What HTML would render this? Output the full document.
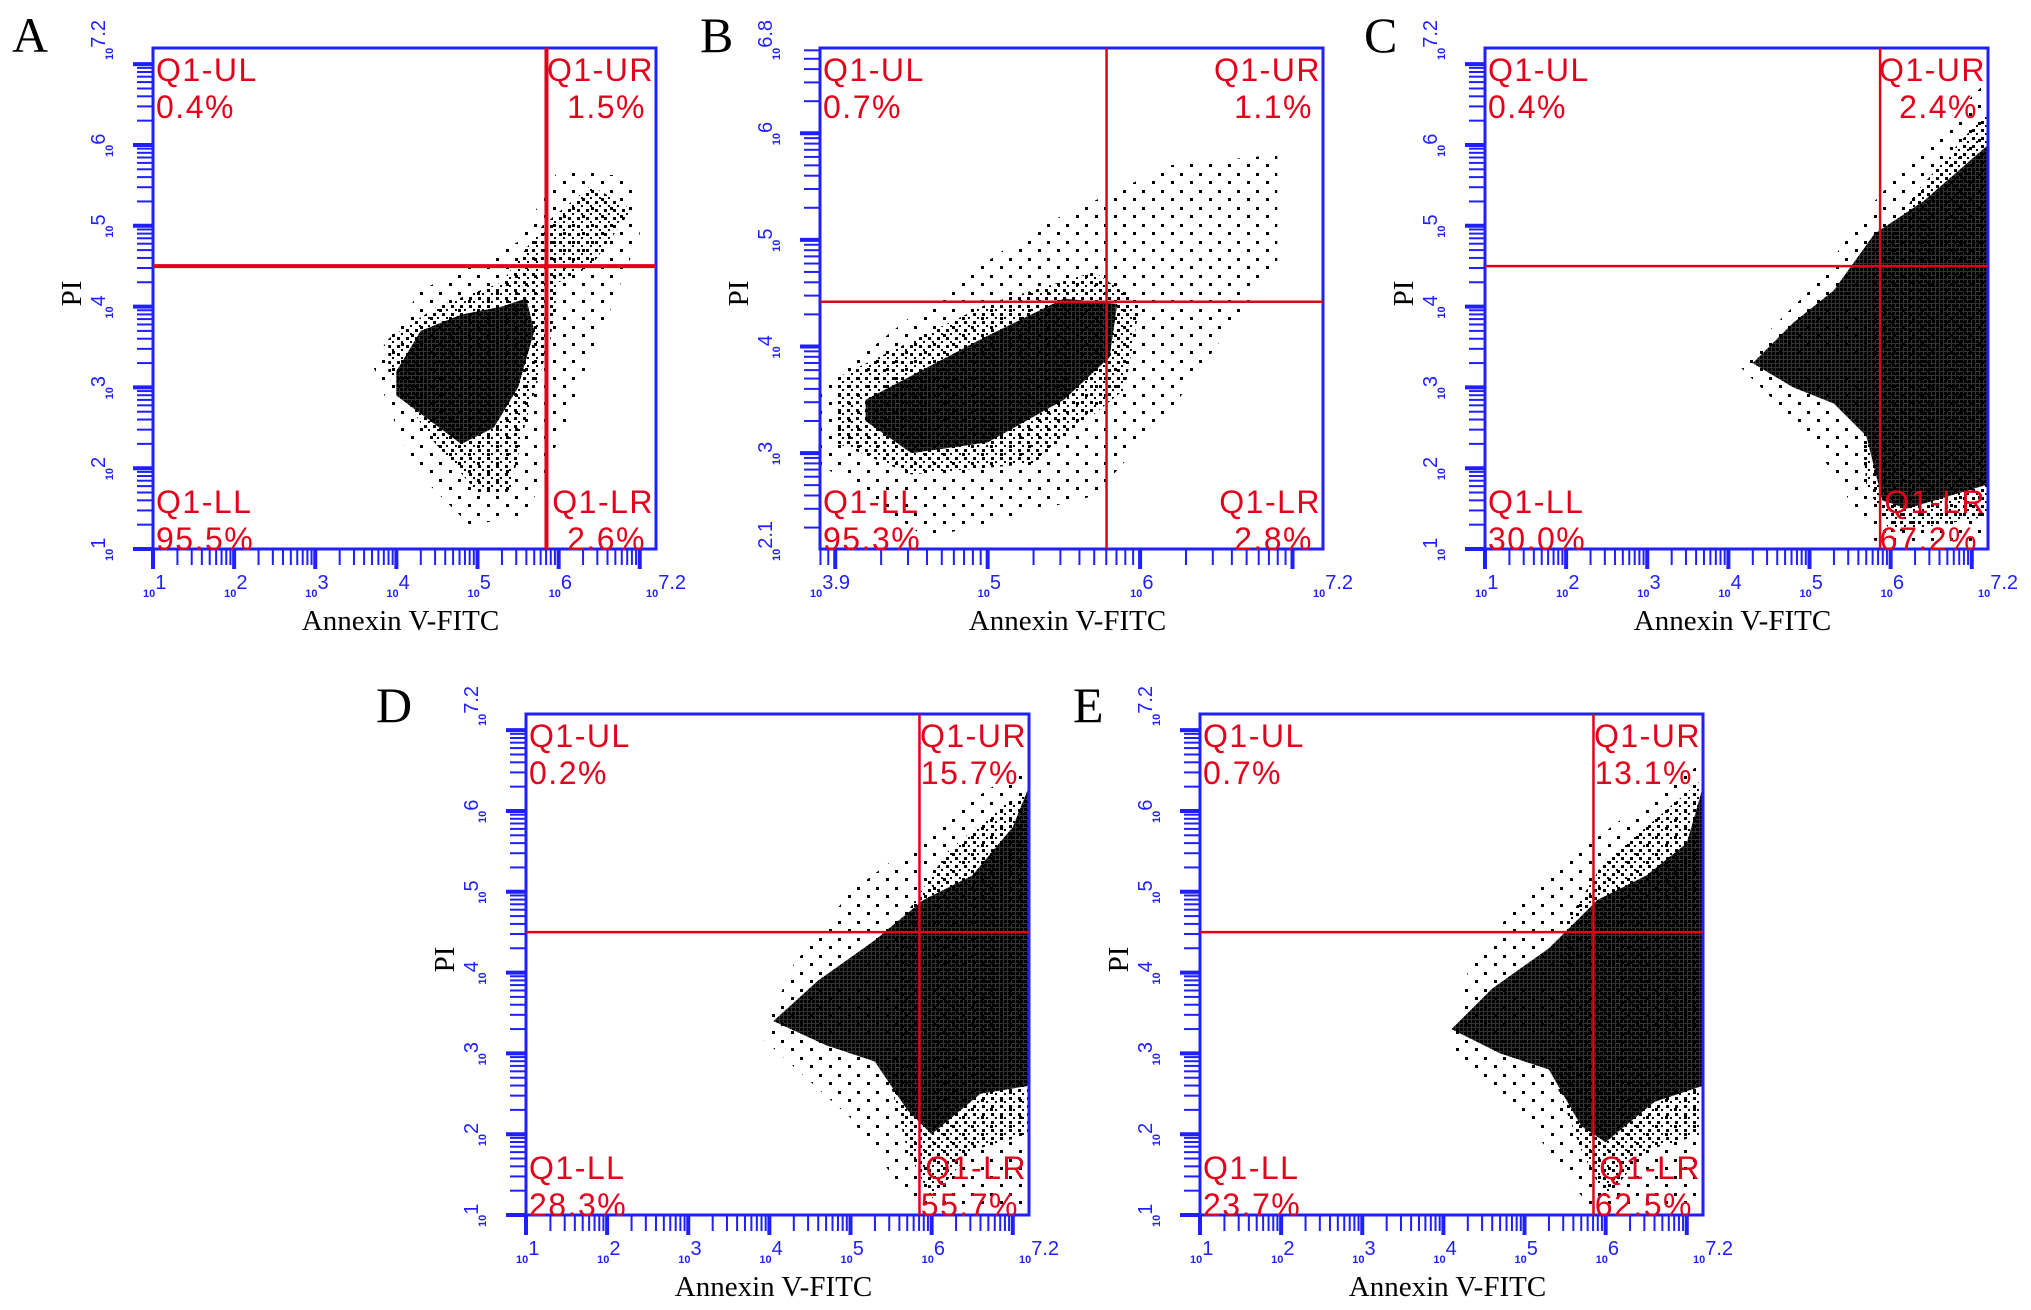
<!DOCTYPE html>
<html><head><meta charset="utf-8"><style>
html,body{margin:0;padding:0;background:#fff;}
svg{display:block;}
</style></head><body>
<svg id="fig" width="2031" height="1310" viewBox="0 0 2031 1310" xmlns="http://www.w3.org/2000/svg">
<defs>
<pattern id="dotsM" width="4" height="4" patternUnits="userSpaceOnUse"><rect x="0" y="0" width="3" height="3" fill="#000"/></pattern>
<pattern id="dotsS" width="9" height="8" patternUnits="userSpaceOnUse"><rect x="1" y="1" width="3" height="3" fill="#000"/><rect x="5" y="5" width="2" height="2" fill="#000"/></pattern>
<pattern id="dotsX" width="19" height="17" patternUnits="userSpaceOnUse"><rect x="2" y="3" width="3" height="3" fill="#000"/><rect x="12" y="11" width="3" height="3" fill="#000"/></pattern>
</defs>
</svg>
<script>
// panel ids and layout
const panelIds = ['A','B','C','D','E'];
const panelLeft = [153, 820, 1485, 526, 1200];
const panelTop = [48, 48, 48, 714, 714];
const panelW = 503, panelH = 501;
// axis ranges (log10 decades)
const xMin = [1, 3.9, 1, 1, 1];
const xMax = [7.2, 7.2, 7.2, 7.2, 7.2];
const yMin = [1, 2.1, 1, 1, 1];
const yMax = [7.2, 6.8, 7.2, 7.2, 7.2];
const xTickLabels = [['1','2','3','4','5','6','7.2'],['3.9','5','6','7.2'],['1','2','3','4','5','6','7.2'],['1','2','3','4','5','6','7.2'],['1','2','3','4','5','6','7.2']];
const yTickLabels = [['1','2','3','4','5','6','7.2'],['2.1','3','4','5','6','6.8'],['1','2','3','4','5','6','7.2'],['1','2','3','4','5','6','7.2'],['1','2','3','4','5','6','7.2']];
// quadrant gates (decades)
const gateX = [5.85, 5.78, 5.87, 5.85, 5.85];
const gateY = [4.5, 4.42, 4.5, 4.5, 4.5];
// quadrant percentages
const pctUL = ['0.4%','0.7%','0.4%','0.2%','0.7%'];
const pctUR = ['1.5%','1.1%','2.4%','15.7%','13.1%'];
const pctLL = ['95.5%','95.3%','30.0%','28.3%','23.7%'];
const pctLR = ['2.6%','2.8%','67.2%','55.7%','62.5%'];
// cloud polygons (decades) per panel: dense, medium, sparse
const denseClouds = [
 [[4.0,3.2],[4.3,3.7],[4.8,3.9],[5.3,4.0],[5.6,4.1],[5.7,3.7],[5.5,3.0],[5.2,2.5],[4.8,2.3],[4.4,2.6],[4.0,2.9]],
 [[4.2,3.3],[4.5,3.0],[5.0,3.1],[5.5,3.5],[5.8,3.9],[5.85,4.4],[5.5,4.45],[5.0,4.1],[4.6,3.8],[4.2,3.5]],
 [[4.3,3.3],[4.8,3.8],[5.3,4.2],[5.8,4.9],[6.4,5.3],[7.2,6.0],[7.2,1.8],[6.2,1.5],[5.9,1.6],[5.7,2.4],[5.3,2.8],[4.8,3.0]],
 [[4.05,3.4],[4.6,3.9],[5.3,4.4],[5.9,4.9],[6.5,5.2],[7.0,5.8],[7.2,6.3],[7.2,2.6],[6.6,2.5],[6.0,2.0],[5.7,2.3],[5.3,2.9],[4.7,3.1]],
 [[4.1,3.3],[4.6,3.8],[5.3,4.3],[5.9,4.9],[6.5,5.2],[7.0,5.6],[7.2,6.3],[7.2,2.6],[6.6,2.4],[6.0,1.9],[5.7,2.1],[5.3,2.8],[4.7,3.0]]
];
const mediumClouds = [
 [[3.9,3.2],[4.4,2.4],[5.0,1.7],[5.4,1.7],[5.6,2.6],[5.9,3.6],[6.0,4.3],[6.4,4.5],[6.9,5.2],[6.4,5.5],[5.8,5.0],[5.3,4.3],[4.5,4.0],[3.9,3.6]],
 [[4.0,3.1],[4.5,2.8],[5.3,2.9],[5.9,3.6],[6.0,4.4],[5.7,4.7],[5.0,4.4],[4.0,3.7]],
 [[5.8,4.5],[6.3,5.4],[7.0,6.2],[7.2,6.4],[7.2,1.4],[6.6,1.3],[6.0,1.2],[5.7,1.8],[5.6,3.0]],
 [[5.6,4.6],[6.2,5.5],[6.9,6.1],[7.2,6.2],[7.2,2.0],[6.5,1.8],[6.0,1.2],[5.7,1.8],[5.5,2.6]],
 [[5.5,4.6],[6.0,5.4],[6.5,5.8],[7.2,6.4],[7.2,2.0],[6.5,1.8],[6.0,1.2],[5.7,1.8],[5.4,2.6]]
];
const sparseClouds = [
 [[3.7,3.3],[4.2,2.0],[4.9,1.3],[5.6,1.4],[6.1,2.6],[6.5,3.6],[7.0,4.9],[6.9,5.6],[6.0,5.7],[5.5,4.8],[4.3,4.2]],
 [[3.9,2.9],[4.6,2.2],[5.7,2.6],[6.2,3.4],[6.9,4.8],[6.9,5.8],[6.2,5.7],[5.3,5.1],[4.6,4.4],[3.9,3.6]],
 [[4.1,3.3],[5.0,2.4],[5.8,1.1],[7.2,1.1],[7.2,6.8],[6.6,6.2],[5.8,5.3],[5.0,4.2]],
 [[3.9,3.2],[5.0,2.2],[5.8,1.1],[7.2,1.1],[7.2,6.6],[6.6,6.2],[5.8,5.6],[5.0,5.0],[4.3,4.1]],
 [[4.1,3.0],[5.0,2.2],[5.8,1.1],[7.2,1.1],[7.2,6.6],[6.6,6.2],[5.8,5.6],[5.0,5.0],[4.3,4.0]]
];
// letter positions
const letterX = [12, 700, 1364, 376, 1073];
const letterY = [52, 52, 52, 722, 722];

const NS = 'http://www.w3.org/2000/svg';
const svg = document.getElementById('fig');
function mk(tag, attrs, parent){
  const e = document.createElementNS(NS, tag);
  for (const k in attrs) e.setAttribute(k, attrs[k]);
  (parent||svg).appendChild(e);
  return e;
}
const BLUE = '#1f1fff', RED = '#e3001b';

panelIds.forEach((id, i) => {
  const L = panelLeft[i], T = panelTop[i], R = L + panelW, B = T + panelH;
  const px = v => L + (v - xMin[i]) / (xMax[i] - xMin[i]) * panelW;
  const py = v => B - (v - yMin[i]) / (yMax[i] - yMin[i]) * panelH;
  const g = mk('g', {});
  
  

  const letter = mk('text', {x: letterX[i], y: letterY[i], 'font-family': '"Liberation Serif", serif', 'font-size': 50}, g);
  
  
  letter.textContent = id;

  // clouds
  const poly = (pts, fill, name) => {
    const p = mk('polygon', {points: pts.map(q => px(q[0]) + ',' + py(q[1])).join(' '), fill: fill}, g);
    
    
  };
  poly(sparseClouds[i], 'url(#dotsX)', 'sparse-events');
  poly(mediumClouds[i], 'url(#dotsS)', 'medium-events');
  poly(denseClouds[i], 'url(#dotsM)', 'dense-events');
  poly(denseClouds[i], 'rgba(0,0,0,0.8)', 'dense-core');

  // ticks
  const tg = mk('g', {stroke: BLUE}, g);
  
  
  for (let d = Math.floor(xMin[i]); d <= Math.ceil(xMax[i]); d++) {
    for (let k = 1; k <= 9; k++) {
      const v = d + Math.log10(k);
      if (v < xMin[i] - 1e-6 || v > xMax[i] + 1e-6) continue;
      const x = px(v);
      mk('line', {x1: x, y1: B, x2: x, y2: B + (k === 1 ? 20 : 16), 'stroke-width': k === 1 ? 4 : 2}, tg);
    }
  }
  for (let d = Math.floor(yMin[i]); d <= Math.ceil(yMax[i]); d++) {
    for (let k = 1; k <= 9; k++) {
      const v = d + Math.log10(k);
      if (v < yMin[i] - 1e-6 || v > yMax[i] + 1e-6) continue;
      const y = py(v);
      mk('line', {x1: L, y1: y, x2: L - (k === 1 ? 20 : 16), y2: y, 'stroke-width': k === 1 ? 4 : 2}, tg);
    }
  }
  // tick labels
  xTickLabels[i].forEach(lab => {
    const v = parseFloat(lab);
    const t = mk('text', {x: px(v) - 10, y: B + 48, fill: BLUE, 'font-family': '"Liberation Sans", sans-serif', 'font-size': 11, 'font-weight': 'bold'}, g);
    
    
    t.innerHTML = '10<tspan dy="-8" font-size="20" font-weight="normal">' + lab + '</tspan>';
  });
  yTickLabels[i].forEach(lab => {
    const v = parseFloat(lab);
    const x = L - 40, y = py(v) + 12;
    const t = mk('text', {x: x, y: y, fill: BLUE, 'font-family': '"Liberation Sans", sans-serif', 'font-size': 11, 'font-weight': 'bold', transform: 'rotate(-90 ' + x + ' ' + y + ')'}, g);
    
    
    t.innerHTML = '10<tspan dy="-8" font-size="20" font-weight="normal">' + lab + '</tspan>';
  });

  // frame
  const fr = mk('rect', {x: L, y: T, width: panelW, height: panelH, fill: 'none', stroke: BLUE, 'stroke-width': 3}, g);
  
  

  // gates
  const gw = i === 0 ? 4 : 2.5;
  const hl = mk('line', {x1: L, y1: py(gateY[i]), x2: R, y2: py(gateY[i]), stroke: RED, 'stroke-width': gw}, g);
  
  
  const vl = mk('line', {x1: px(gateX[i]), y1: T, x2: px(gateX[i]), y2: B, stroke: RED, 'stroke-width': gw}, g);
  
  

  // quadrant labels
  const ql = (txt, x, y, anchor, name) => {
    const t = mk('text', {x: x, y: y, fill: RED, 'font-family': '"Liberation Sans", sans-serif', 'font-size': 32, 'letter-spacing': 1.5, 'text-anchor': anchor}, g);
    
    
    t.textContent = txt;
  };
  ql('Q1-UL', L + 3, T + 33, 'start', 'quadrant-ul-name');
  ql(pctUL[i], L + 3, T + 70, 'start', 'quadrant-ul-percent');
  ql('Q1-UR', R - 2, T + 33, 'end', 'quadrant-ur-name');
  ql(pctUR[i], R - 10, T + 70, 'end', 'quadrant-ur-percent');
  ql('Q1-LL', L + 3, B - 36, 'start', 'quadrant-ll-name');
  ql(pctLL[i], L + 3, B + 1, 'start', 'quadrant-ll-percent');
  ql('Q1-LR', R - 2, B - 36, 'end', 'quadrant-lr-name');
  ql(pctLR[i], R - 10, B + 1, 'end', 'quadrant-lr-percent');

  // axis titles
  const xt = mk('text', {x: L + panelW * 0.5 - 4, y: B + 81, 'font-family': '"Liberation Serif", serif', 'font-size': 29, 'text-anchor': 'middle'}, g);
  
  
  xt.textContent = 'Annexin V-FITC';
  const yx = L - 72, yy = T + panelH * 0.49;
  const yt = mk('text', {x: yx, y: yy, 'font-family': '"Liberation Serif", serif', 'font-size': 29, 'text-anchor': 'middle', transform: 'rotate(-90 ' + yx + ' ' + yy + ')'}, g);
  
  
  yt.textContent = 'PI';
});
</script>
</body></html>
